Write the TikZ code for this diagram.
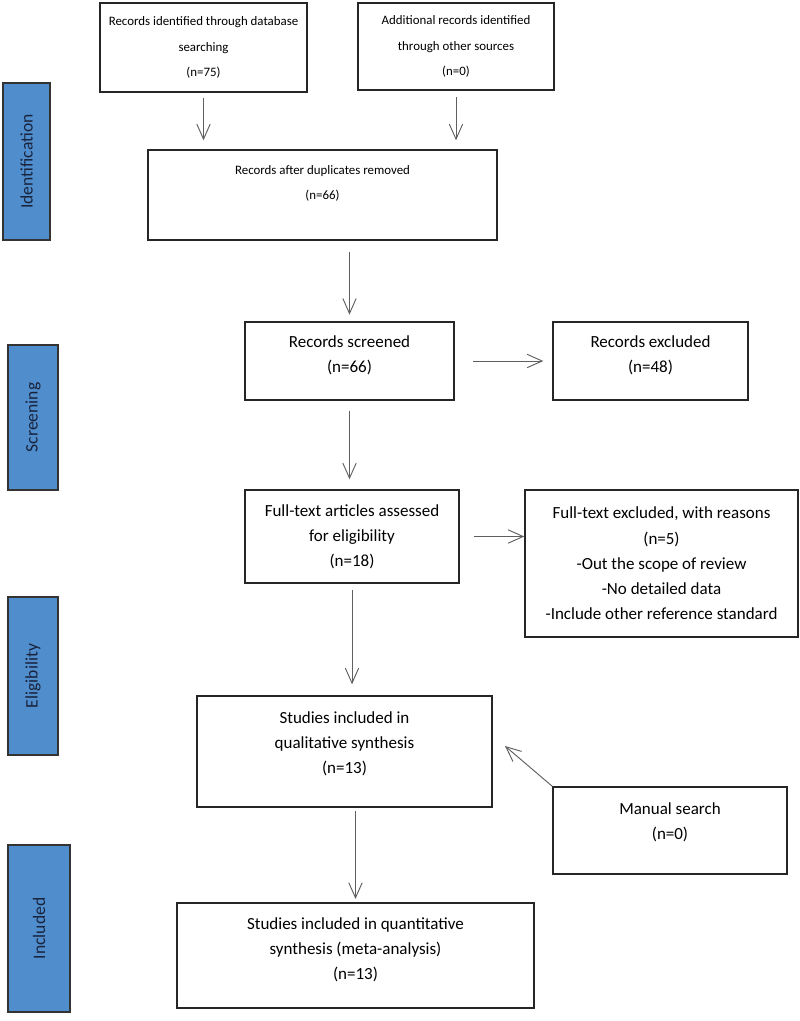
\documentclass[tikz,border=0pt]{standalone}
\usepackage{fontspec}
\setmainfont{Carlito}
\usetikzlibrary{arrows.meta}
\definecolor{stageblue}{RGB}{79,141,205}
\definecolor{stagetext}{RGB}{25,35,60}
\definecolor{arrowgray}{RGB}{95,95,95}
\tikzset{
  pbox/.style={draw=black!85,line width=1.2pt,fill=white,align=center,inner sep=0pt,
    font=\fontsize{14.5}{21.5}\selectfont},
  smalltext/.style={font=\fontsize{11}{21.5}\selectfont},
  stagebox/.style={draw=black!80,line width=1pt,fill=stageblue,rotate=90,inner sep=0pt,
    text=stagetext,font=\fontsize{15}{17}\selectfont},
  flow/.style={arrowgray,line width=0.8pt,-{Straight Barb[length=4.5mm,width=4mm]}}
}

\begin{document}
\begin{tikzpicture}[x=0.3mm,y=-0.3mm]
\useasboundingbox (0,0) rectangle (800,1021);

% stage labels on the left
\foreach \nm/\lab/\xc/\yc/\sz/\bw in {ident/Identification/26.5/161.5/47.1/14.1,
    screen/Screening/33/417.5/43.5/15,
    elig/Eligibility/33/676/47.4/15,
    incl/Included/39/928.5/50.1/18.6}
  \node[stagebox,minimum width=\sz mm,minimum height=\bw mm] (\nm) at (\xc,\yc) {\lab};

% flow boxes
\node[pbox,smalltext,minimum width=62.1mm,minimum height=26.7mm] (dbsearch) at (203.5,47.5)
  {Records identified through database\\searching\\(n=75)};
\node[pbox,smalltext,minimum width=58.8mm,minimum height=26.1mm] (othersrc) at (456,46.5)
  {Additional records identified\\through other sources\\(n=0)};
\node[pbox,smalltext,minimum width=104.7mm,minimum height=27mm] (dedup) at (322.5,195)
  {Records after duplicates removed\\(n=66)\\~};
\node[pbox,minimum width=62.7mm,minimum height=23.4mm] (screened) at (349.5,361)
  {Records screened\\(n=66)\\[-9.5pt]~};
\node[pbox,minimum width=58.5mm,minimum height=23.4mm] (excluded) at (650.5,361)
  {Records excluded\\(n=48)\\[-9.5pt]~};
\node[pbox,minimum width=64.2mm,minimum height=27.9mm] (fulltext) at (352,536.5)
  {Full-text articles assessed\\for eligibility\\(n=18)};
\node[pbox,minimum width=81.9mm,minimum height=44.1mm] (ftexcl) at (661.5,563.5)
  {Full-text excluded, with reasons\\(n=5)\\-Out the scope of review\\-No detailed data\\-Include other reference standard};
\node[pbox,minimum width=88.5mm,minimum height=33.3mm] (qual) at (344.5,751.5)
  {Studies included in\\qualitative synthesis\\(n=13)\\[-6pt]~};
\node[pbox,minimum width=70.2mm,minimum height=26.1mm] (manual) at (670,830.5)
  {Manual search\\(n=0)\\[-5.5pt]~};
\node[pbox,minimum width=107.1mm,minimum height=31.5mm] (quant) at (355.5,955.5)
  {Studies included in quantitative\\synthesis (meta-analysis)\\(n=13)\\[-9.5pt]~};

\coordinate (qualin) at (505,746);

% arrows
\draw[flow,shorten <=1.5mm,shorten >=2.7mm] (dbsearch.south) -- (dbsearch.south |- dedup.north);
\draw[flow,shorten <=2mm,shorten >=2.7mm] (othersrc.south) -- (othersrc.south |- dedup.north);
\draw[flow,shorten <=3.5mm,shorten >=2mm] (dedup.south -| screened) -- (screened.north);
\draw[flow,shorten <=3mm,shorten >=3mm] (screened.south) -- (screened.south |- fulltext.north);
\draw[flow,shorten <=5.5mm,shorten >=2.7mm] (screened.east) -- (screened.east -| excluded.west);
\draw[flow,shorten <=4.2mm] (fulltext.east) -- (fulltext.east -| ftexcl.west);
\draw[flow,shorten <=2mm,shorten >=3.3mm] (fulltext.south) -- (fulltext.south |- qual.north);
\draw[flow] (manual.north west) -- (qualin);
\draw[flow,shorten <=1mm,shorten >=1mm] (qual.south -| quant) -- (quant.north);

\end{tikzpicture}
\end{document}
